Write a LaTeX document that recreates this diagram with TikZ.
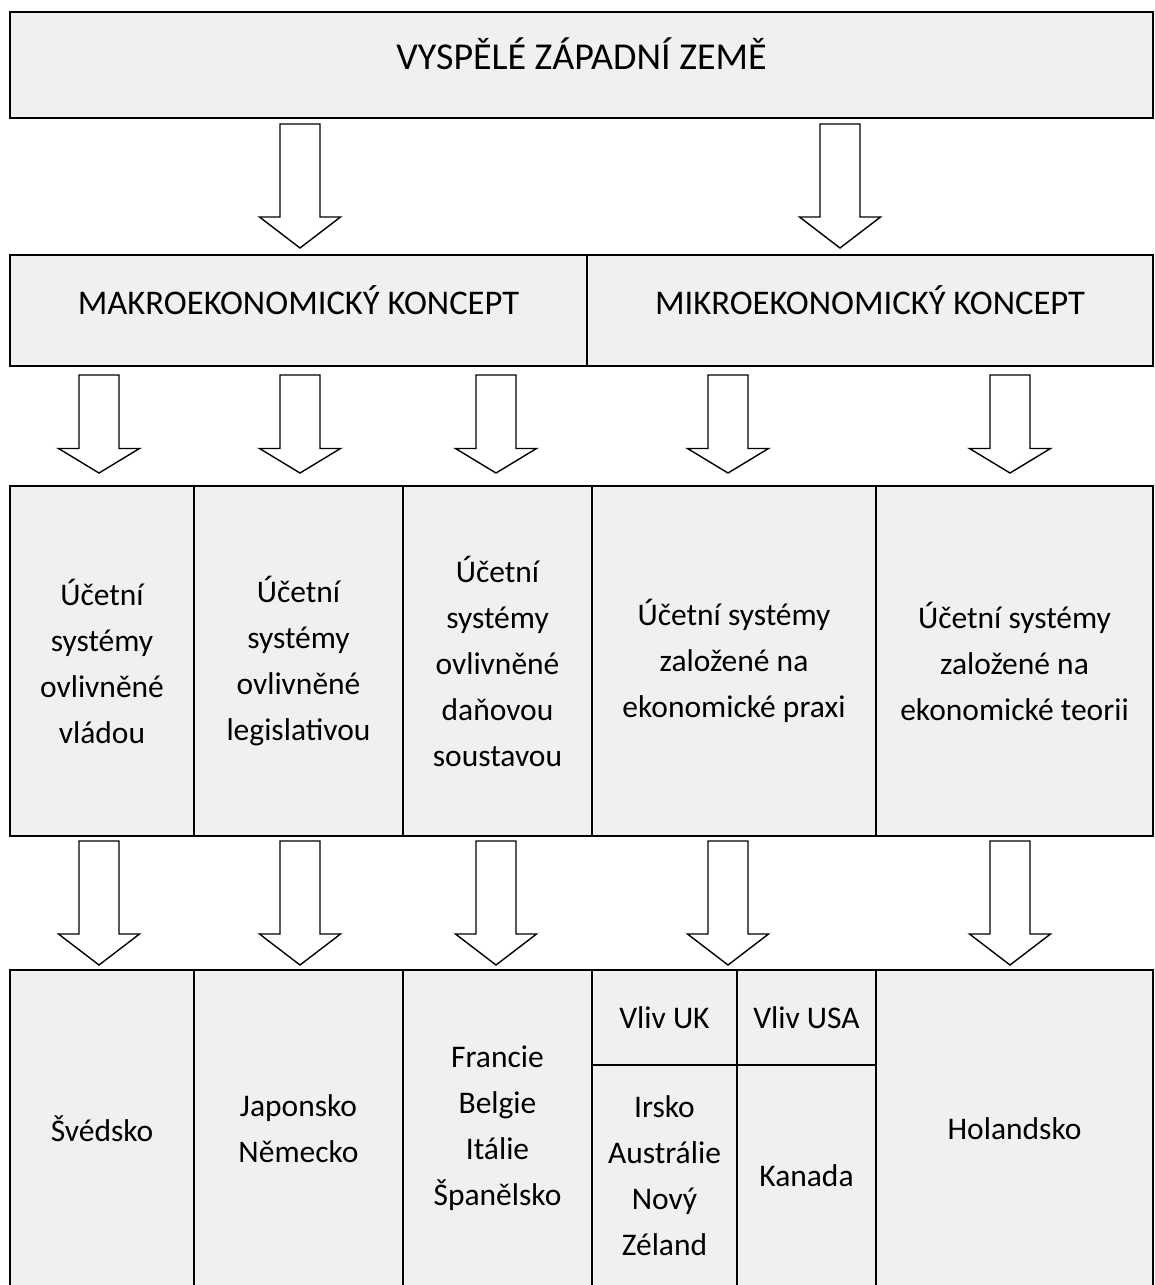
\documentclass[tikz,border=0pt]{standalone}
\usepackage{fontspec}
\setmainfont{Carlito}
\usetikzlibrary{calc,positioning}
\definecolor{cellgray}{HTML}{F0F0F0}
\tikzset{
  cell/.style={draw, fill=cellgray, line width=1pt, outer sep=0pt, inner sep=0pt,
    align=center, font=\fontsize{15.75pt}{23pt}\selectfont},
  capline/.style={text height=14pt, text depth=10pt, font=\fontsize{#1}{23pt}\selectfont},
  arrowline/.style={draw, fill=white, line width=0.7pt, line join=miter}
}
% block arrow: upper node, lower node, x, top gap, bottom gap
\newcommand{\blockarrow}[5]{%
  \coordinate (s) at ($(#3,0 |- #1.south)+(0,#4)$);
  \coordinate (t) at ($(#3,0 |- #2.north)+(0,-#5)$);
  \coordinate (h) at ($(s)!0.75!(t)$);
  \draw[arrowline] ($(s)+(-20,0)$) -- ($(h)+(-20,0)$) -- ($(h)+(-40.5,0)$) -- (t)
    -- ($(h)+(40.5,0)$) -- ($(h)+(20,0)$) -- ($(s)+(20,0)$) -- cycle;}

\begin{document}
\begin{tikzpicture}[x=0.5pt, y=-0.5pt]
  \useasboundingbox (0,0) rectangle (1155,1285);
  % top
  \node[cell, capline=19pt, minimum width=571.5pt, minimum height=53pt] (zeme) at (581.5,65) {VYSPĚLÉ ZÁPADNÍ ZEMĚ};
  % concepts
  \node[cell, capline=17.3pt, minimum width=288.5pt, minimum height=55.5pt] (makro) at (298.5,310.5) {MAKROEKONOMICKÝ KONCEPT};
  \node[cell, capline=17.3pt, minimum width=283pt, minimum height=55.5pt, right=0pt of makro] (mikro) {MIKROEKONOMICKÝ KONCEPT};
  % systems
  \node[cell, minimum width=92pt, minimum height=175pt] (vlada) at (102,661) {Účetní\\systémy\\ovlivněné\\vládou};
  \node[cell, minimum width=104.5pt, minimum height=175pt, right=0pt of vlada] (legis) {Účetní\\systémy\\ovlivněné\\legislativou};
  \node[cell, minimum width=94.5pt, minimum height=175pt, right=0pt of legis] (dane) {Účetní\\systémy\\ovlivněné\\daňovou\\soustavou};
  \node[cell, minimum width=142pt, minimum height=175pt, right=0pt of dane] (praxe) {Účetní systémy\\založené na\\ekonomické praxi};
  \node[cell, minimum width=138.5pt, minimum height=175pt, right=0pt of praxe] (teorie) {Účetní systémy\\založené na\\ekonomické teorii};
  % countries
  \node[cell, minimum width=92pt, minimum height=158.5pt] (svedsko) at (102,1128.5) {Švédsko};
  \node[cell, minimum width=104.5pt, minimum height=158.5pt, right=0pt of svedsko] (japonsko) {Japonsko\\Německo};
  \node[cell, minimum width=94.5pt, minimum height=158.5pt, right=0pt of japonsko] (francie) {Francie\\Belgie\\Itálie\\Španělsko};
  \node[cell, minimum width=72.5pt, minimum height=47.5pt, below right=0pt and 0pt of francie.north east] (uk) {Vliv UK};
  \node[cell, minimum width=69.5pt, minimum height=47.5pt, right=0pt of uk] (usa) {Vliv USA};
  \node[cell, minimum width=72.5pt, minimum height=111pt, below=0pt of uk] (irsko) {Irsko\\Austrálie\\Nový\\Zéland};
  \node[cell, minimum width=69.5pt, minimum height=111pt, below=0pt of usa] (kanada) {Kanada};
  \node[cell, minimum width=138.5pt, minimum height=158.5pt, below right=0pt and 0pt of usa.north east] (holandsko) {Holandsko};
  % arrows
  \blockarrow{zeme}{makro}{300}{6}{7}
  \blockarrow{zeme}{mikro}{840}{6}{7}
  \foreach \x/\t in {99/vlada, 300/legis, 496/dane}
    \blockarrow{makro}{\t}{\x}{9}{13};
  \foreach \x/\t in {728/praxe, 1010/teorie}
    \blockarrow{mikro}{\t}{\x}{9}{13};
  \foreach \x/\f/\t in {99/vlada/svedsko, 300/legis/japonsko, 496/dane/francie, 728/praxe/uk, 1010/teorie/holandsko}
    \blockarrow{\f}{\t}{\x}{5}{5};
\end{tikzpicture}
\end{document}
